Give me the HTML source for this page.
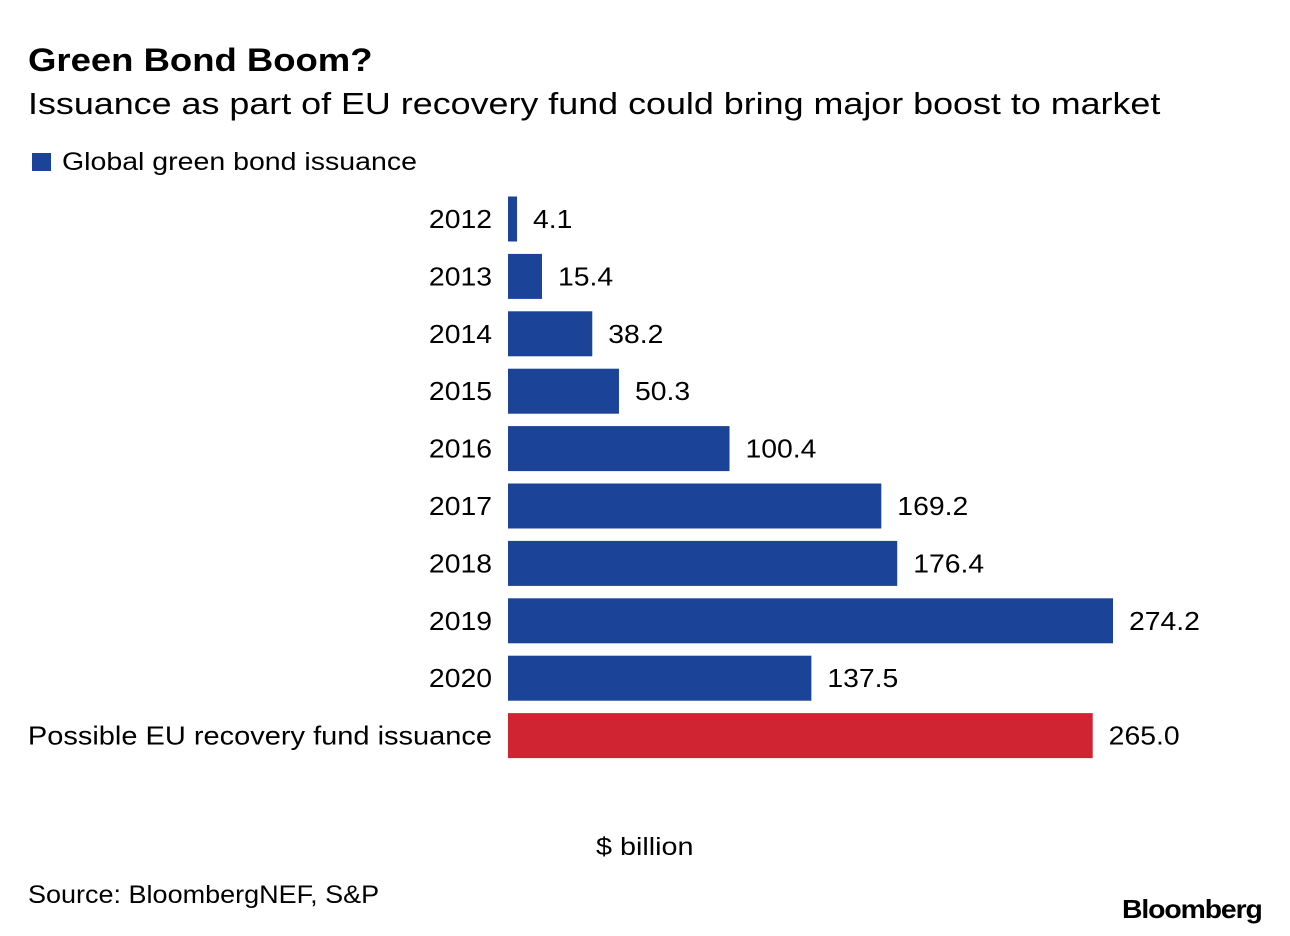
<!DOCTYPE html>
<html><head><meta charset="utf-8"><style>
body{margin:0;background:#fff;font-family:"Liberation Sans",sans-serif;color:#000}
#wrap{position:relative;width:1290px;height:936px;overflow:hidden}
.t{position:absolute;white-space:nowrap;transform-origin:left top}
</style></head><body>
<div id="wrap">
<div class="t" style="left:28px;top:42px;font-size:32px;font-weight:bold;transform:scaleX(1.14)">Green Bond Boom?</div>
<div class="t" style="left:28px;top:86px;font-size:31px;transform:scaleX(1.157)">Issuance as part of EU recovery fund could bring major boost to market</div>
<div class="t" style="left:32px;top:148px;font-size:25px"><span style="display:inline-block;width:19px;height:18px;background:#1b4398;vertical-align:-1px;margin-right:11px"></span><span style="display:inline-block;transform:scaleX(1.14);transform-origin:left center">Global green bond issuance</span></div>
<svg id="svg" width="1290" height="936" style="position:absolute;left:0;top:0"></svg>
<div class="t" style="left:596px;top:833px;font-size:25px;transform:scaleX(1.15)">$ billion</div>
<div class="t" style="left:28px;top:881px;font-size:25px;transform:scaleX(1.08)">Source: BloombergNEF, S&amp;P</div>
<div class="t" style="left:1122px;top:894px;font-size:26px;font-weight:bold;letter-spacing:-1px;transform:scaleX(1.09)">Bloomberg</div>
</div>
<script>
const categories=["2012","2013","2014","2015","2016","2017","2018","2019","2020","Possible EU recovery fund issuance"];
const values=[4.1,15.4,38.2,50.3,100.4,169.2,176.4,274.2,137.5,265.0];
const colors=["#1b4398","#1b4398","#1b4398","#1b4398","#1b4398","#1b4398","#1b4398","#1b4398","#1b4398","#d12433"];
const x0=508,pxPer=605/274.2,y0=219,step=57.4,bh=45;
const xs=v=>x0+v*pxPer, ys=i=>y0+i*step;
const svg=document.getElementById('svg'),NS="http://www.w3.org/2000/svg";
function stretch(t,k){const w=t.getComputedTextLength();t.setAttribute('textLength',w*k);t.setAttribute('lengthAdjust','spacingAndGlyphs');}
categories.forEach((c,i)=>{
  const r=document.createElementNS(NS,'rect');
  
  
  r.setAttribute('x',x0);r.setAttribute('y',ys(i)-bh/2);
  r.setAttribute('width',xs(values[i])-x0);r.setAttribute('height',bh);
  r.setAttribute('fill',colors[i]);svg.appendChild(r);
  const l=document.createElementNS(NS,'text');
  
  
  l.setAttribute('x',492);l.setAttribute('y',ys(i)+9);
  l.setAttribute('text-anchor','end');l.setAttribute('font-size','26');
  l.setAttribute('font-family','Liberation Sans, sans-serif');
  l.textContent=c;svg.appendChild(l);stretch(l,c.length>4?1.115:1.09);
  const v=document.createElementNS(NS,'text');
  
  
  v.setAttribute('x',xs(values[i])+16);v.setAttribute('y',ys(i)+9);
  v.setAttribute('font-size','26');
  v.setAttribute('font-family','Liberation Sans, sans-serif');
  v.textContent=values[i].toFixed(1);svg.appendChild(v);stretch(v,1.09);
});
</script>
</body></html>
